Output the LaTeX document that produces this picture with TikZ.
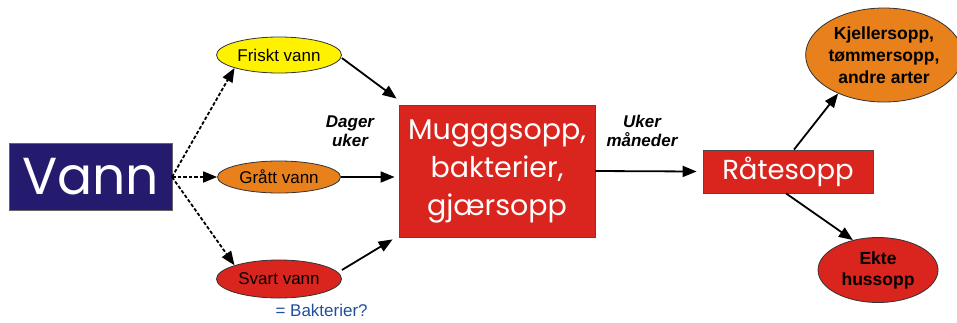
\documentclass[tikz,border=0pt]{standalone}
\usepackage{fontspec}
\setmainfont{Liberation Sans}
\newfontfamily\geo{Poppins}
\usetikzlibrary{arrows.meta,shapes.geometric}
\definecolor{navy}{HTML}{241A6E}
\definecolor{myred}{HTML}{D9251D}
\definecolor{myorange}{HTML}{E8801C}
\definecolor{myyellow}{HTML}{FFF200}
\definecolor{myblue}{HTML}{1F4F9F}
\tikzset{
  ell/.style={ellipse,draw=black!80,line width=0.8pt,inner sep=0pt},
  redbox/.style={rectangle,draw=black!70,line width=0.8pt,fill=myred,text=white,inner sep=0pt,font=\geo},
  arr/.style={-{Triangle[length=14pt,width=11pt]},line width=1.8pt},
  darr/.style={arr,dash pattern=on 3.5pt off 2pt},
  lab/.style={font=\fontsize{17}{19}\selectfont\bfseries\itshape,align=center}
}
\begin{document}
\begin{tikzpicture}[x=1pt,y=-1pt]
\useasboundingbox (0,0) rectangle (957,322);
\node[rectangle,fill=navy,draw=black!60,minimum width=163pt,minimum height=67pt,text=white,font=\geo\fontsize{52}{54}\selectfont,inner sep=0pt] (vann) at (90.5,176.5) {Vann};
\node[ell,fill=myyellow,minimum width=125pt,minimum height=36pt,font=\fontsize{17}{19}\selectfont] (fr) at (279,55) {Friskt vann};
\node[ell,fill=myorange,minimum width=123pt,minimum height=32pt,font=\fontsize{17}{19}\selectfont] (gr) at (279,177) {Grått vann};
\node[ell,fill=myred,minimum width=125pt,minimum height=38pt,font=\fontsize{17}{19}\selectfont] (sv) at (279,279) {Svart vann};
\node[text=myblue,font=\fontsize{17}{19}\selectfont,anchor=west] (bak) at (272,310) {= Bakterier?};
\node[redbox,minimum width=196pt,minimum height=132pt,align=center,font=\geo\fontsize{28.5}{38}\selectfont] (mid) at (497,171) {Mugggsopp,\\bakterier,\\gjærsopp};
\node[lab] (dag) at (350,131) {Dager\\uker};
\node[lab,anchor=west] (uke) at (603,131) {Uker\\måneder};
\node[redbox,minimum width=170pt,minimum height=43pt,font=\geo\fontsize{27.5}{30}\selectfont] (rat) at (788,171.5) {Råtesopp};
\node[ell,fill=myorange,minimum width=145pt,minimum height=94pt,align=center,font=\fontsize{17.5}{22}\selectfont\bfseries] (kj) at (884,55) {Kjellersopp,\\tømmersopp,\\andre arter};
\node[ell,fill=myred,minimum width=120pt,minimum height=65pt,align=center,font=\fontsize{17.5}{21}\selectfont\bfseries] (ek) at (878,270) {Ekte\\hussopp};
\coordinate (vr) at (172,177);
\draw[darr] (vr) -- (fr.south west);
\draw[darr] (vr) -- (gr.west);
\draw[darr] (vr) -- (sv.north west);
\draw[arr] (fr.east) ++(0,3) -- ([xshift=-2pt,yshift=6pt]mid.north west);
\draw[arr] (gr.east) -- ([xshift=-4pt]mid.west |- gr.east);
\draw[arr] (sv.east) ++(0,-9) -- ([xshift=-6pt,yshift=-2pt]mid.south west);
\draw[arr] (mid.east) -- ([xshift=-6pt]rat.west);
\draw[arr] ([xshift=6pt]rat.north) -- (kj.220);
\draw[arr] ([xshift=-2pt]rat.south) -- (ek.130);
\end{tikzpicture}
\end{document}
